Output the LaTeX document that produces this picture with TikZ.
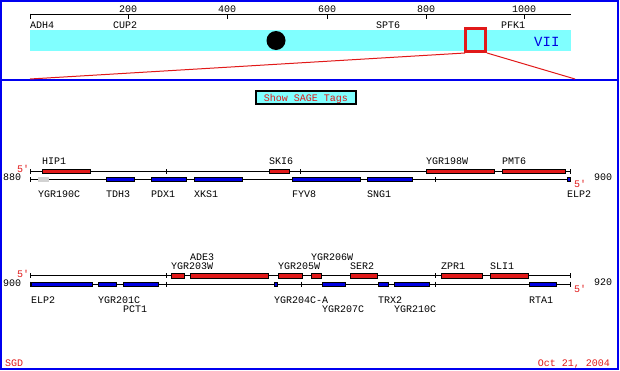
\documentclass[tikz,border=0pt]{standalone}
\usepackage{fontspec}
\newfontfamily\mono{Liberation Mono}
\definecolor{wred}{RGB}{225,25,25}
\definecolor{cblue}{RGB}{0,0,225}
\definecolor{band}{RGB}{128,255,255}
\definecolor{frameblue}{RGB}{0,0,240}
\definecolor{gray5}{RGB}{210,210,210}
\tikzset{
  lbl/.style={font=\mono\fontsize{10}{10}\selectfont, inner sep=0pt, anchor=base west},
  gbox/.style={draw=black, line width=0.8pt},
  axis/.style={draw=black, line width=0.9pt},
  tick/.style={draw=black, line width=0.9pt},
  zoomline/.style={draw=wred, line width=1pt},
}
\begin{document}
\begin{tikzpicture}[x=1pt,y=-1pt]
\useasboundingbox (0,0) rectangle (620,370);
\fill[white] (0,0) rectangle (620,370);
% frame
\draw[frameblue, line width=2pt] (1,1) rectangle (617.5,368.5);
\draw[frameblue, line width=2pt] (0,80) -- (618,80);
% chromosome overview
\fill[band] (30,30) rectangle (571,51);
\fill[black] (276,40.5) circle (9.5);
\node[font=\mono\fontsize{14}{14}\selectfont, text=cblue, inner sep=0pt, anchor=base west] (chr) at (534,46.5) {VII};
\draw[axis] (30,14) -- (571,14);
\foreach \x/\v in {128/200,227/400,327/600,426/800,524/1000}{
  \draw[tick] (\x,14) -- (\x,19);
  \node[lbl, anchor=base] (r\v) at (\x,12.5) {\v};
}
\draw[tick] (30,13.5) -- (30,19);
\node[lbl] (gADH4) at (30,28.5) {ADH4};
\node[lbl] (gCUP2) at (113,28.5) {CUP2};
\node[lbl] (gSPT6) at (376,28.5) {SPT6};
\node[lbl] (gPFK1) at (501,28.5) {PFK1};
% zoom window
\draw[wred, line width=2.7pt] (465.3,28.3) rectangle (485.7,51.7);
\coordinate (zl) at (465,53);
\coordinate (zr) at (487,53);
\coordinate (bl) at (30,79);
\coordinate (br) at (575,79);
\draw[zoomline] (zl) -- (bl);
\draw[zoomline] (zr) -- (br);
% button
\node[draw=black, line width=2pt, fill=band, text=wred, font=\mono\fontsize{10}{10}\selectfont, minimum width=100pt, minimum height=13pt, inner sep=0pt, text depth=0pt] (sage) at (306,97.5) {Show SAGE Tags};
% ---------- row 1 ----------
\node[lbl, text=wred] (r1a) at (17,172.3) {5\char"2032};
\node[lbl] (r1b) at (3,180.5) {880};
\node[lbl, text=wred] (r1c) at (574,187.5) {5\char"2032};
\node[lbl] (r1d) at (594,180) {900};
\draw[axis] (30,171.5) -- (570,171.5);
\draw[axis] (30,179.5) -- (570,179.5);
\foreach \x in {30,166,300,570} \draw[tick] (\x,169) -- (\x,174);
\foreach \x in {30,435} \draw[tick] (\x,177) -- (\x,182);
\foreach \a/\b/\n in {42/90/HIP1,269/289/SKI6,426/494/YGR198W,502/565/PMT6}{
  \draw[gbox, fill=wred] (\a,169.3) rectangle (\b,173.7);
  \node[lbl] (ua\n) at (\a,164.5) {\n};
}
\draw[gbox, draw=gray5, fill=gray5] (38,177.5) rectangle (48,181.7);
\node[lbl] (laYGR190C) at (38,197.5) {YGR190C};
\foreach \a/\b/\n in {106/134/TDH3,151/186/PDX1,194/242/XKS1,292/360/FYV8,367/412/SNG1,567/570/ELP2}{
  \draw[gbox, fill=cblue] (\a,177.3) rectangle (\b,181.7);
  \node[lbl] (la\n) at (\a,197.5) {\n};
}
% ---------- row 2 ----------
\node[lbl, text=wred] (r2a) at (17,277.8) {5\char"2032};
\node[lbl] (r2b) at (3,286.5) {900};
\node[lbl, text=wred] (r2c) at (574,292.5) {5\char"2032};
\node[lbl] (r2d) at (594,285) {920};
\draw[axis] (30,275.8) -- (570,275.8);
\draw[axis] (30,284.2) -- (570,284.2);
\foreach \x in {30,166,435,570} \draw[tick] (\x,273.3) -- (\x,278.3);
\foreach \x in {30,166,301,435,570} \draw[tick] (\x,281.7) -- (\x,286.7);
\foreach \a/\b/\n/\y in {171/184/YGR203W/269.5,190/268/ADE3/260.5,278/302/YGR205W/269.5,311/321/YGR206W/260.5,350/377/SER2/269.5,441/482/ZPR1/269.5,490/528/SLI1/269.5}{
  \draw[gbox, fill=wred] (\a,273.6) rectangle (\b,278);
  \node[lbl] (ub\n) at (\a,\y) {\n};
}
\foreach \a/\b/\n/\y in {31/92/ELP2/303.5,98/116/YGR201C/303.5,123/158/PCT1/312.5,274/277/YGR204C-A/303.5,322/345/YGR207C/312.5,378/388/TRX2/303.5,394/429/YGR210C/312.5,529/556/RTA1/303.5}{
  \draw[gbox, fill=cblue] (\a,282) rectangle (\b,286.4);
  \node[lbl] (lb\n) at (\a,\y) {\n};
}
% footer
\node[lbl, text=wred] (sgd) at (5,366) {SGD};
\node[lbl, text=wred, anchor=base east] (date) at (610,366) {Oct 21, 2004};
\end{tikzpicture}
\end{document}
